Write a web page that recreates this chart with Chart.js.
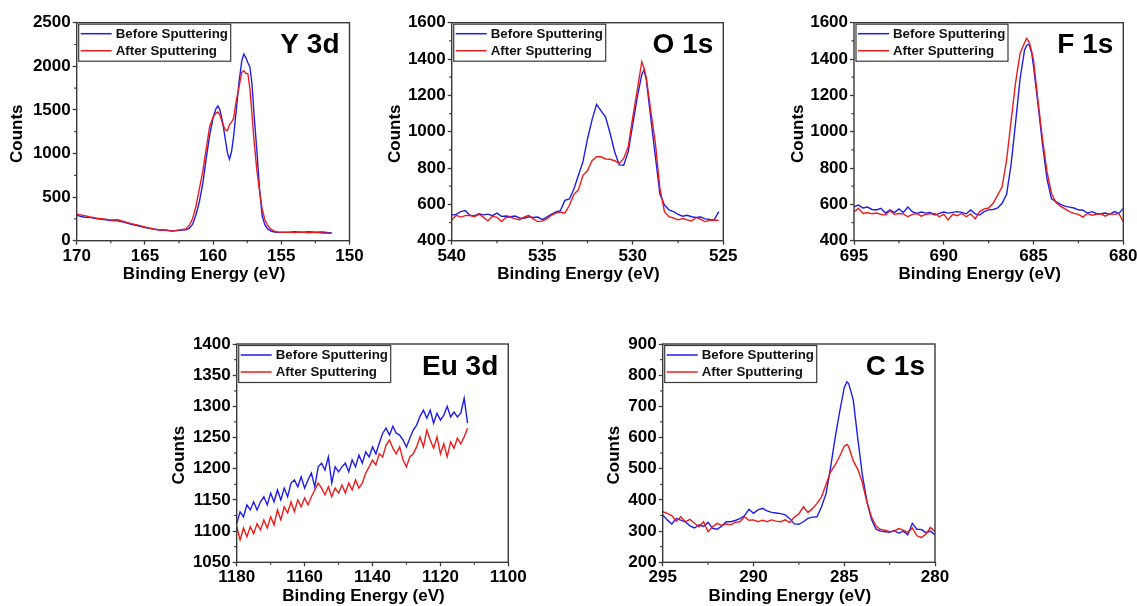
<!DOCTYPE html>
<html>
<head>
<meta charset="utf-8">
<title>XPS spectra before and after sputtering</title>
<script src="https://cdn.jsdelivr.net/npm/chart.js@4.4.1/dist/chart.umd.min.js"></script>
<style>
  html, body { margin: 0; padding: 0; background: #ffffff; }
  body { width: 1137px; height: 606px; position: relative; overflow: hidden; }
  .panel { position: absolute; }
  .panel canvas { display: block; }
</style>
</head>
<body>
<script>
// ---------- Y 3d ----------
const y3dEnergy = [170,169.5,169,168.5,168,167.5,167,166.5,166,165.5,165,164.5,164,163.5,163,162.5,
  162,161.75,161.5,161.25,161,160.75,160.5,160.25,160,159.8,159.65,159.5,159.3,159.1,
  158.95,158.8,158.65,158.5,158.3,158.1,157.9,157.75,157.6,157.45,157.3,157.15,157,
  156.8,156.6,156.4,156.2,156,155.75,155.5,155.25,155,154.5,154,153.5,153,152.5,152,151.5,151.3];
const y3dBefore = [290,272,265,250,242,230,228,210,188,172,150,136,126,120,112,118,
  125,140,190,300,450,660,950,1210,1410,1510,1545,1500,1360,1160,
  1010,935,1020,1190,1500,1820,2060,2140,2100,2040,1990,1800,1450,
  1050,600,280,180,135,110,100,95,98,96,102,95,104,97,100,92,88];
const y3dAfter = [305,290,272,258,250,238,240,218,195,178,158,140,122,124,110,122,
  135,175,255,400,600,800,1060,1310,1420,1460,1475,1440,1340,1270,
  1262,1330,1360,1400,1610,1760,1930,1950,1920,1915,1740,1450,1150,
  820,580,360,240,175,130,110,100,95,98,94,100,92,96,88,85,87];
const y3dXTicks = [170,165,160,155,150];
const y3dYTicks = [0,500,1000,1500,2000,2500];

// ---------- O 1s ----------
const o1sEnergy = [540,539.75,539.5,539.25,539,538.75,538.5,538.25,538,537.75,537.5,537.25,537,
  536.75,536.5,536.25,536,535.75,535.5,535.25,535,534.75,534.5,534.25,534,
  533.75,533.5,533.25,533,532.75,532.5,532.25,532,531.75,531.5,531.25,531,530.75,530.5,
  530.25,530,529.75,529.5,529.375,529.25,529,528.75,528.5,528.25,528,527.75,527.5,527.25,
  527,526.75,526.5,526.25,526,525.75,525.5,525.25];
const o1sBefore = [541,545,560,566,540,536,548,542,546,538,552,534,536,532,536,525,524,532,528,530,516,530,545,558,565,
  622,630,685,760,835,960,1065,1150,1115,1080,990,890,817,815,890,1040,1190,1315,
  1340,
  1285,1070,862,655,596,569,560,545,535,540,532,528,530,520,517,515,560];
const o1sAfter = [514,540,530,538,540,532,545,530,510,535,528,505,528,530,520,515,530,540,520,505,508,520,540,552,558,
  552,595,655,680,760,785,840,862,862,850,848,840,826,853,917,1080,1230,1385,
  1350,
  1295,1110,936,688,560,532,525,515,522,515,508,528,518,505,512,514,512];
const o1sXTicks = [540,535,530,525];
const o1sYTicks = [400,600,800,1000,1200,1400,1600];

// ---------- F 1s ----------
const f1sEnergy = [695,694.75,694.5,694.25,694,693.75,693.5,693.25,693,692.75,692.5,692.25,692,
  691.75,691.5,691.25,691,690.75,690.5,690.25,690,689.75,689.5,689.25,689,688.75,688.5,688.25,
  688,687.75,687.5,687.25,687,686.75,686.5,686.25,686,685.75,685.5,685.38,685.25,685.1,685,
  684.75,684.5,684.25,684,683.75,683.5,683.25,683,682.75,682.5,682.25,682,681.75,681.5,681.25,
  681,680.75,680.5,680.25,680];
const f1sBefore = [587,596,580,585,572,569,578,552,570,555,575,555,585,560,550,558,552,555,541,550,558,552,556,560,556,548,569,548,
  541,560,570,572,580,606,655,820,1050,1290,1450,1475,1482,1431,1360,
  1150,930,740,630,615,600,590,585,580,570,568,552,560,550,548,552,545,560,550,578];
const f1sAfter = [560,578,550,555,548,552,545,541,565,545,550,548,532,545,550,535,545,548,550,532,545,514,545,538,550,532,548,520,
  560,575,580,606,651,697,844,1060,1270,1431,1490,1514,1495,1440,1394,
  1170,960,780,660,610,590,575,560,550,545,530,550,540,545,548,535,548,545,550,505];
const f1sXTicks = [695,690,685,680];
const f1sYTicks = [400,600,800,1000,1200,1400,1600];

// ---------- Eu 3d ----------
const eu3dEnergy = [1180,1179,1178,1177,1176,1175,1174,1173,1172,1171,1170,1169,1168,1167,1166,1165,1164,1163,
  1162,1161,1160,1159,1158,1157,1156,1155,1154,1153,1152,1151,1150,1149,1148,1147,1146,1145,1144,1143,
  1142,1141,1140,1139,1138,1137,1136,1135,1134,1133,1132,1131,1130,1129,1128,1127,1126,1125,1124,1123,
  1122,1121,1120,1119,1118,1117,1116,1115,1114,1113,1112];
const eu3dBefore = [1112,1131,1123,1142,1134,1147,1134,1147,1155,1142,1161,1147,1166,1150,1169,1155,1177,1182,
  1171,1187,1169,1182,1193,1171,1203,1209,1198,1219,1177,1203,1195,1203,1209,1195,1214,1203,1222,1209,
  1227,1219,1235,1224,1241,1257,1265,1254,1268,1257,1254,1246,1235,1249,1262,1270,1284,1294,1281,1294,
  1273,1289,1278,1286,1300,1283,1291,1283,1289,1313,1273];
const eu3dAfter = [1107,1086,1105,1091,1107,1096,1112,1102,1118,1105,1123,1110,1134,1118,1139,1129,1147,1131,
  1150,1139,1153,1142,1155,1166,1177,1169,1158,1171,1155,1169,1161,1174,1161,1177,1166,1182,1169,1177,
  1193,1203,1214,1206,1224,1219,1238,1246,1233,1224,1235,1214,1203,1219,1224,1235,1251,1235,1262,1246,
  1233,1251,1224,1240,1219,1243,1233,1249,1240,1251,1265];
const eu3dXTicks = [1180,1160,1140,1120,1100];
const eu3dYTicks = [1050,1100,1150,1200,1250,1300,1350,1400];

// ---------- C 1s ----------
const c1sEnergy = [295,294.75,294.5,294.25,294,293.75,293.5,293.25,293,292.75,292.5,292.25,292,
  291.75,291.5,291.25,291,290.75,290.5,290.25,290,289.75,289.5,289.25,289,288.75,288.5,288.25,
  288,287.75,287.5,287.25,287,286.75,286.5,286.25,286,285.75,285.5,285.25,
  285,284.85,284.75,
  284.5,284.25,284,283.75,283.5,283.25,283,282.75,282.5,282.25,282,281.75,281.5,281.25,281,280.75,280.5,280.25,280];
const c1sBefore = [352,336,323,340,335,330,317,310,320,315,328,309,306,316,330,330,334,340,349,370,357,368,373,365,360,358,356,352,
  340,323,322,330,341,345,346,378,420,505,600,683,
  760,779,772,
  720,595,480,395,338,306,300,298,296,302,293,300,288,325,306,305,295,300,288];
const c1sAfter = [362,357,350,332,346,330,338,325,314,330,298,314,325,318,323,320,328,330,346,335,336,330,335,330,336,332,330,336,
  327,345,355,378,360,372,389,410,450,490,512,540,
  572,578,570,
  525,498,455,392,346,316,305,303,298,300,308,303,296,310,285,280,290,312,298];
const c1sXTicks = [295,290,285,280];
const c1sYTicks = [200,300,400,500,600,700,800,900];

const seriesLabels = ['Before Sputtering', 'After Sputtering'];
const xTitle = 'Binding Energy (eV)';
const yTitle = 'Counts';

// ---------- styling ----------
const FONT = "'Liberation Sans', Arial, Helvetica, sans-serif";
const BLUE = '#1e1ee8';
const RED = '#ec1c1c';
const FRAME = '#3a3a3a';

// plot rectangles on the page (left, top, right, bottom) and title placement
const panels = [
  { label: 'Y 3d',  energy: y3dEnergy,  before: y3dBefore,  after: y3dAfter,  xTicks: y3dXTicks,  yTicks: y3dYTicks,
    area: { l: 76.7,  t: 22.7, r: 349.5,  b: 240.7 }, yTitleGap: 59 },
  { label: 'O 1s',  energy: o1sEnergy,  before: o1sBefore,  after: o1sAfter,  xTicks: o1sXTicks,  yTicks: o1sYTicks,
    area: { l: 451.7, t: 22.7, r: 723.3,  b: 240.7 }, yTitleGap: 56 },
  { label: 'F 1s',  energy: f1sEnergy,  before: f1sBefore,  after: f1sAfter,  xTicks: f1sXTicks,  yTicks: f1sYTicks,
    area: { l: 854,   t: 22.7, r: 1123.3, b: 240.7 }, yTitleGap: 56 },
  { label: 'Eu 3d', energy: eu3dEnergy, before: eu3dBefore, after: eu3dAfter, xTicks: eu3dXTicks, yTicks: eu3dYTicks,
    area: { l: 236.7, t: 344,  r: 508.3,  b: 562.3 }, yTitleGap: 57 },
  { label: 'C 1s',  energy: c1sEnergy,  before: c1sBefore,  after: c1sAfter,  xTicks: c1sXTicks,  yTicks: c1sYTicks,
    area: { l: 662.7, t: 344,  r: 935,    b: 562.3 }, yTitleGap: 48.5 }
];

// frame, minor ticks, in-plot legend, element label and axis titles
const decorPlugin = {
  id: 'decor',
  afterDraw(chart, args, o) {
    const { ctx, chartArea: a, scales: { x, y } } = chart;
    ctx.save();
    ctx.strokeStyle = FRAME;
    ctx.lineWidth = 1.4;
    ctx.strokeRect(a.left, a.top, a.right - a.left, a.bottom - a.top);

    // minor ticks halfway between labelled ticks
    ctx.lineWidth = 1.2;
    ctx.beginPath();
    for (let i = 0; i < o.xTicks.length - 1; i++) {
      const px = x.getPixelForValue((o.xTicks[i] + o.xTicks[i + 1]) / 2);
      ctx.moveTo(px, a.bottom); ctx.lineTo(px, a.bottom + 2.5);
    }
    for (let i = 0; i < o.yTicks.length - 1; i++) {
      const py = y.getPixelForValue((o.yTicks[i] + o.yTicks[i + 1]) / 2);
      ctx.moveTo(a.left, py); ctx.lineTo(a.left - 2.5, py);
    }
    ctx.stroke();

    // legend box
    const lx = a.left + 2, ly = a.top + 1.5, lw = 152, lh = 37;
    ctx.fillStyle = '#ffffff';
    ctx.fillRect(lx, ly, lw, lh);
    ctx.strokeStyle = FRAME;
    ctx.lineWidth = 1.2;
    ctx.strokeRect(lx, ly, lw, lh);
    ctx.font = `bold 13.3px ${FONT}`;
    ctx.textAlign = 'left';
    ctx.textBaseline = 'middle';
    chart.data.datasets.forEach((ds, i) => {
      const cy = ly + 9.5 + i * 17;
      ctx.strokeStyle = ds.borderColor;
      ctx.lineWidth = 1.5;
      ctx.beginPath(); ctx.moveTo(lx + 2, cy); ctx.lineTo(lx + 33, cy); ctx.stroke();
      ctx.fillStyle = '#111111';
      ctx.fillText(ds.label, lx + 37, cy + 0.5);
    });

    // element / core level label
    ctx.fillStyle = '#000000';
    ctx.font = `bold 28px ${FONT}`;
    ctx.textAlign = 'right';
    ctx.fillText(o.label, a.right - 10, a.top + 23);

    // axis titles
    ctx.font = `bold 17px ${FONT}`;
    ctx.textAlign = 'center';
    ctx.fillText(xTitle, (a.left + a.right) / 2 - 9, a.bottom + 34);
    ctx.translate(a.left - o.yTitleGap, (a.top + a.bottom) / 2 + 2);
    ctx.rotate(-Math.PI / 2);
    ctx.fillText(yTitle, 0, 0);
    ctx.restore();
  }
};

panels.forEach(p => {
  const left = Math.floor(p.area.l) - 80;
  const top = Math.floor(p.area.t) - 20;
  const right = Math.ceil(p.area.r) + 22;
  const bottom = Math.ceil(p.area.b) + 62;
  const div = document.createElement('div');
  div.className = 'panel';
  div.style.left = left + 'px';
  div.style.top = top + 'px';
  div.style.width = (right - left) + 'px';
  div.style.height = (bottom - top) + 'px';
  const canvas = document.createElement('canvas');
  div.appendChild(canvas);
  document.body.appendChild(div);

  const yAxisW = p.area.l - left;
  const xAxisH = 40;
  const tickFont = { family: FONT, size: 17, weight: 'bold' };
  const plain = v => String(v);

  new Chart(canvas, {
    type: 'line',
    data: {
      datasets: [
        { label: seriesLabels[0], data: p.energy.map((e, i) => ({ x: e, y: p.before[i] })),
          borderColor: BLUE, borderWidth: 1.4, pointRadius: 0, tension: 0, fill: false, order: 1 },
        { label: seriesLabels[1], data: p.energy.map((e, i) => ({ x: e, y: p.after[i] })),
          borderColor: RED, borderWidth: 1.4, pointRadius: 0, tension: 0, fill: false, order: 0 }
      ]
    },
    options: {
      responsive: true,
      maintainAspectRatio: false,
      animation: false,
      devicePixelRatio: 1,
      events: [],
      layout: { padding: { left: 0, top: p.area.t - top, right: right - p.area.r, bottom: (bottom - p.area.b) - xAxisH } },
      scales: {
        x: {
          type: 'linear',
          reverse: true,
          min: Math.min(...p.xTicks),
          max: Math.max(...p.xTicks),
          afterBuildTicks: s => { s.ticks = p.xTicks.map(v => ({ value: v })); },
          afterFit: s => { s.height = xAxisH; s.paddingLeft = 0; s.paddingRight = 0; },
          ticks: { font: tickFont, color: '#000000', padding: 1, maxRotation: 0, autoSkip: false, callback: plain },
          grid: { drawOnChartArea: false, drawTicks: true, tickLength: 4, tickColor: FRAME, tickWidth: 1.3 },
          border: { display: false },
          title: { display: false }
        },
        y: {
          type: 'linear',
          min: Math.min(...p.yTicks),
          max: Math.max(...p.yTicks),
          afterBuildTicks: s => { s.ticks = p.yTicks.map(v => ({ value: v })); },
          afterFit: s => { s.width = yAxisW; s.paddingTop = 0; s.paddingBottom = 0; },
          ticks: { font: tickFont, color: '#000000', padding: 2, autoSkip: false, callback: plain },
          grid: { drawOnChartArea: false, drawTicks: true, tickLength: 4, tickColor: FRAME, tickWidth: 1.3 },
          border: { display: false },
          title: { display: false }
        }
      },
      plugins: {
        legend: { display: false },
        tooltip: { enabled: false },
        decor: { label: p.label, xTicks: p.xTicks, yTicks: p.yTicks, yTitleGap: p.yTitleGap }
      }
    },
    plugins: [decorPlugin]
  });
});
</script>
</body>
</html>
